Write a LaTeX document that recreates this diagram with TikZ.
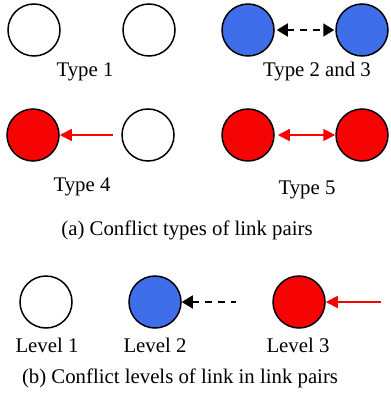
\documentclass[tikz,border=0pt]{standalone}
\usepackage{fontspec}
\setmainfont{Liberation Serif}
\usetikzlibrary{arrows.meta}
\definecolor{linkblue}{RGB}{62,110,234}
\definecolor{linkred}{RGB}{246,4,4}

\begin{document}
\begin{tikzpicture}[x=1pt, y=-1pt,
    link/.style={circle, draw=black, line width=1.5pt, minimum size=52pt, inner sep=0pt},
    lbl/.style={font=\fontsize{20.8}{24}\selectfont, inner sep=0pt},
    blk/.style={line width=1.6pt, dash pattern=on 7pt off 6pt, {Triangle[length=11pt,width=13pt]}-{Triangle[length=11pt,width=13pt]}},
    redarr/.style={draw=linkred, line width=1.8pt, {Triangle[length=12pt,width=12pt]}-{Triangle[length=12pt,width=12pt]}, linkred}
  ]
      \useasboundingbox (0,0) rectangle (390,398);
      % (a) types
      \node[link] (t1a) at (34,30) {};
      \node[link] (t1b) at (149,30) {};
      \node[link, fill=linkblue] (t2a) at (248,30) {};
      \node[link, fill=linkblue] (t2b) at (362,30) {};
      \draw[blk, shorten <=2pt, shorten >=1pt] (t2a) -- (t2b);
      \node[lbl] (l1) at (85,72) {Type 1};
      \node[lbl] (l2) at (317,72) {Type 2 and 3};

      \node[link, fill=linkred] (t4a) at (33,135) {};
      \node[link] (t4b) at (148,135) {};
      \coordinate (t4s) at (113,135);
      \draw[redarr, {Triangle[length=12pt,width=12pt]}-] (t4a) -- (t4s);
      \node[link, fill=linkred] (t5a) at (248,135) {};
      \node[link, fill=linkred] (t5b) at (362,135) {};
      \draw[redarr, shorten <=3pt] (t5a) -- (t5b);
      \node[lbl] (l4) at (82,187) {Type 4};
      \node[lbl] (l5) at (307,190) {Type 5};
      \node[lbl] (capa) at (187,230) {(a) Conflict types of link pairs};

      % (b) levels
      \node[link] (v1) at (46,302) {};
      \node[link, fill=linkblue] (v2) at (155,302) {};
      \coordinate (v2s) at (236,302);
      \draw[blk, {Triangle[length=11pt,width=13pt]}-] (v2) -- (v2s);
      \node[link, fill=linkred] (v3) at (299,302) {};
      \coordinate (v3s) at (381,302);
      \draw[redarr, {Triangle[length=12pt,width=12pt]}-] (v3) -- (v3s);
      \node[lbl] (lv1) at (47,345) {Level 1};
      \node[lbl] (lv2) at (155,345) {Level 2};
      \node[lbl] (lv3) at (298,345) {Level 3};
      \node[lbl] (capb) at (180,378) {(b) Conflict levels of link in link pairs};
\end{tikzpicture}
\end{document}
